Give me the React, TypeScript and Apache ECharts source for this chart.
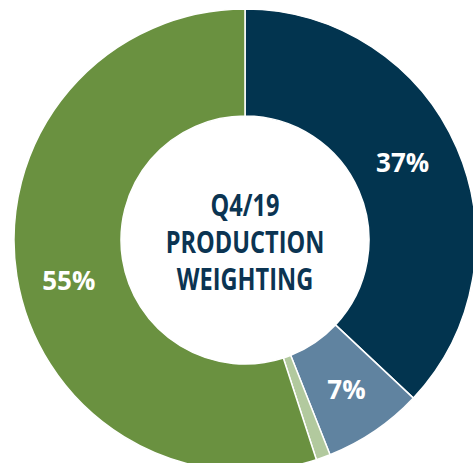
import React, { useEffect, useRef } from "react";
import * as echarts from "echarts";

const categories = ["Segment A", "Segment B", "Segment C", "Segment D"];
const values = [37, 7, 1, 55];
const colors = ["#02344f", "#6083a0", "#b2c99e", "#6a9140"];
const showLabel = [true, true, false, true];
const labelOffsets = [[-8, -6], [0, 0], [0, 0], [2, 12]];
const centerLines = ["Q4/19", "PRODUCTION", "WEIGHTING"];

const FONT = "'Open Sans', sans-serif";

export default function App() {
  const ref = useRef<HTMLDivElement>(null);
  useEffect(() => {
    if (!ref.current) return;
    const chart = echarts.init(ref.current, null, { renderer: "svg" });
    chart.setOption({
      animation: false,
      backgroundColor: "#ffffff",
      graphic: centerLines.map((t, i) => ({
        type: "text",
        x: 245,
        y: 204 + i * 37,
        scaleX: 0.76,
        style: {
          text: t,
          fill: "#0b3452",
          font: `bold 31px ${FONT}`,
          align: "center",
          verticalAlign: "middle",
        },
      })),
      series: [
        {
          type: "pie",
          center: [245, 240],
          radius: [124, 231],
          startAngle: 90,
          clockwise: true,
          avoidLabelOverlap: false,
          itemStyle: { borderColor: "#ffffff", borderWidth: 1.5 },
          label: {
            show: true,
            position: "inside",
            color: "#ffffff",
            fontFamily: FONT,
            fontWeight: "bold",
            fontSize: 26,
            formatter: (p: any) => `${p.value}%`,
          },
          labelLine: { show: false },
          emphasis: { disabled: true },
          data: categories.map((name, i) => ({
            name,
            value: values[i],
            itemStyle: { color: colors[i] },
            label: { show: showLabel[i], offset: labelOffsets[i] },
          })),
        },
      ],
    });
    return () => chart.dispose();
  }, []);
  return (
    <div
      ref={ref}
      style={{ position: "fixed", left: 0, top: 0, width: 473, height: 463 }}
    />
  );
}
